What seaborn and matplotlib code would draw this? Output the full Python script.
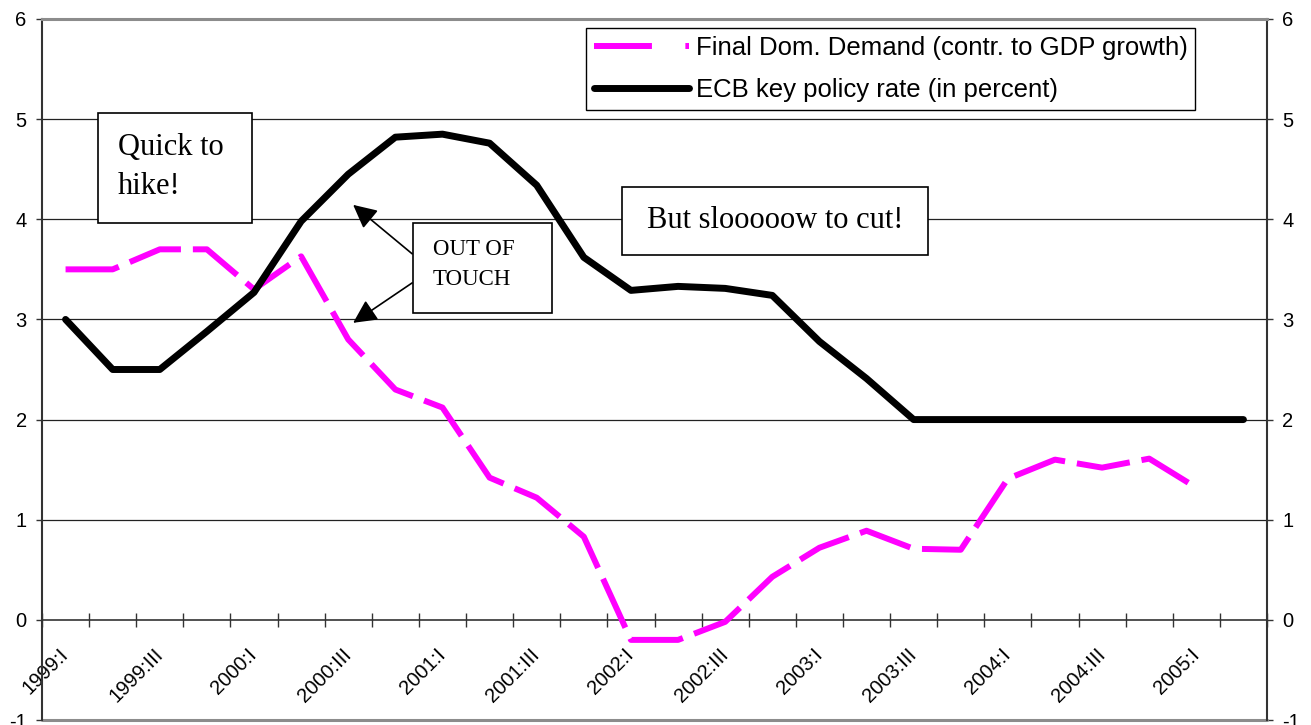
import numpy as np
import pandas as pd
import matplotlib
matplotlib.use("Agg")
import matplotlib.pyplot as plt
import seaborn as sns
from matplotlib.lines import Line2D
from matplotlib.patches import Rectangle

# ---------------- data ----------------
quarters = ["1999:I", "1999:II", "1999:III", "1999:IV",
            "2000:I", "2000:II", "2000:III", "2000:IV",
            "2001:I", "2001:II", "2001:III", "2001:IV",
            "2002:I", "2002:II", "2002:III", "2002:IV",
            "2003:I", "2003:II", "2003:III", "2003:IV",
            "2004:I", "2004:II", "2004:III", "2004:IV",
            "2005:I", "2005:II"]
final_dom_demand = [3.5, 3.5, 3.7, 3.7, 3.3, 3.63, 2.8, 2.3, 2.12, 1.42, 1.22, 0.83,
                    -0.2, -0.2, -0.02, 0.43, 0.72, 0.89, 0.71, 0.70, 1.41, 1.60, 1.52,
                    1.61, 1.32, np.nan]
ecb_rate = [3.0, 2.5, 2.5, 2.88, 3.27, 3.98, 4.45, 4.82, 4.85, 4.76, 4.34, 3.62,
            3.29, 3.33, 3.31, 3.24, 2.78, 2.41, 2.0, 2.0, 2.0, 2.0, 2.0, 2.0, 2.0, 2.0]
series_names = ["Final Dom. Demand (contr. to GDP growth)", "ECB key policy rate (in percent)"]
y_ticks = [-1, 0, 1, 2, 3, 4, 5, 6]
tick_label_quarters = quarters[::2]

# ---------------- style ----------------
sns.set_theme(style="white")
plt.rcParams["font.family"] = ["Liberation Sans", "DejaVu Sans"]
plt.rcParams["text.color"] = "black"
plt.rcParams["xtick.color"] = "black"
plt.rcParams["ytick.color"] = "black"

W, H = 1311, 725
fig = plt.figure(figsize=(W / 100, H / 100), dpi=100)
ax = fig.add_axes([42 / W, 5 / H, 1225 / W, 701 / H])

df = pd.DataFrame({"idx": np.arange(len(quarters)),
                   "fdd": final_dom_demand, "ecb": ecb_rate})

MAG = "#FF00FF"
sns.lineplot(data=df, x="idx", y="fdd", ax=ax, color=MAG, lw=4.3, legend=False, zorder=3)
ln_f = ax.lines[-1]
ln_f.set_dashes((9, 2))
ln_f.set_dash_capstyle("butt")
sns.lineplot(data=df, x="idx", y="ecb", ax=ax, color="black", lw=5, legend=False, zorder=4)
ln_e = ax.lines[-1]
ln_e.set_solid_capstyle("round")
ln_e.set_solid_joinstyle("round")

ax.set_xlim(-0.5, len(quarters) - 0.5)
ax.set_ylim(-1, 6)
ax.set_xlabel("")
ax.set_ylabel("")

# gridlines
for y in y_ticks:
    if y in (-1, 0, 6):
        continue
    ax.axhline(y, color="#222222", lw=0.9, zorder=1)
ax.axhline(-1, color="#8c8c8c", lw=2.2, zorder=1, clip_on=False)

# spines
ax.spines["bottom"].set_position(("data", 0))
ax.spines["bottom"].set_color("#333333")
ax.spines["bottom"].set_linewidth(1.2)
ax.spines["top"].set_color("#8c8c8c")
ax.spines["top"].set_linewidth(2.2)
for s in ("left", "right"):
    ax.spines[s].set_color("#333333")
    ax.spines[s].set_linewidth(1.5)

# x ticks: marks at category boundaries, labels at every other category
ax.set_xticks(np.arange(-0.5, len(quarters), 1.0))
ax.set_xticklabels([])
ax.tick_params(axis="x", which="major", direction="inout", length=9.5, width=1,
               color="#333333", bottom=True)
ax.set_xticks(np.arange(0, len(quarters), 2), minor=True)
ax.set_xticklabels(tick_label_quarters, minor=True, rotation=45, ha="right",
                   va="center", rotation_mode="anchor", fontsize=14.5, color="black")
ax.tick_params(axis="x", which="minor", length=0, pad=23)

# y ticks both sides
ax.set_yticks(y_ticks)
ax.set_yticklabels([str(v) for v in y_ticks])
ax.tick_params(axis="y", which="major", direction="out", length=4.5, width=1,
               color="#333333", left=True, right=True, labelleft=True,
               labelright=True, labelsize=14.5, labelcolor="black", pad=6.5)
ax.grid(False)

# ---------------- annotations ----------------
serif = ["Liberation Serif", "DejaVu Serif"]

ax.add_patch(Rectangle((0.69, 3.96), 3.27, 1.10, facecolor="white",
                       edgecolor="black", lw=1.2, zorder=5))
ax.text(1.11, 4.52, "Quick to\nhike!", ha="left", va="center", fontsize=22,
        family=serif, linespacing=1.45, color="black", zorder=6)

ax.add_patch(Rectangle((11.82, 3.645), 6.49, 0.679, facecolor="white",
                       edgecolor="black", lw=1.2, zorder=5))
ax.text(15.06, 3.99, "But slooooow to cut!", ha="center", va="center",
        fontsize=22, family=serif, color="black", zorder=6)

ax.add_patch(Rectangle((7.38, 3.066), 2.95, 0.898, facecolor="white",
                       edgecolor="black", lw=1.2, zorder=5))
ax.text(7.80, 3.55, "OUT OF\nTOUCH", ha="left", va="center", fontsize=16.5,
        family=serif, linespacing=1.6, color="black", zorder=6)

arrow_kw = dict(arrowstyle="-|>,head_length=0.72,head_width=0.36", color="black",
                lw=1.2, mutation_scale=20, shrinkA=0, shrinkB=0)
ax.annotate("", xy=(6.104, 4.144), xytext=(7.357, 3.655), arrowprops=arrow_kw, zorder=6)
ax.annotate("", xy=(6.104, 2.966), xytext=(7.357, 3.365), arrowprops=arrow_kw, zorder=6)

# ---------------- legend ----------------
h1 = Line2D([], [], color=MAG, lw=4.3, dashes=(9.7, 5.6), dash_capstyle="butt")
h2 = Line2D([], [], color="black", lw=5, solid_capstyle="round")
leg = ax.legend([h1, h2], series_names, loc="upper left",
                bbox_to_anchor=(0.444, 0.987), bbox_transform=ax.transAxes,
                fontsize=18.5, handlelength=3.7, handletextpad=0.28, borderpad=0.3,
                labelspacing=0.7, frameon=True, fancybox=False, edgecolor="black",
                borderaxespad=0, framealpha=1)
leg.get_frame().set_linewidth(1.0)
for t in leg.get_texts():
    t.set_color("black")
leg.set_zorder(7)

fig.savefig("out.png", dpi=100)
